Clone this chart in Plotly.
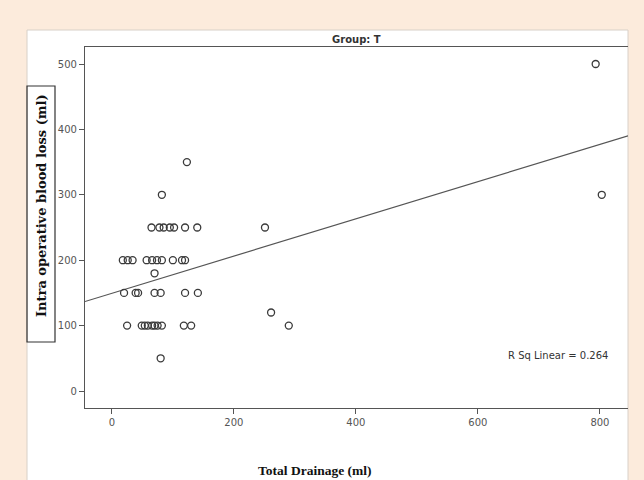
import numpy as np
import plotly.graph_objects as go

# Data (Total Drainage ml, Intra operative blood loss ml)
drainage = [123, 82,
            65, 78, 85, 95, 102, 120, 140, 251,
            18, 26, 34, 57, 66, 74, 82, 100, 115, 120,
            70,
            20, 39, 43, 70, 80, 120, 141,
            25, 49, 54, 59, 66, 70, 75, 82, 118, 130, 290,
            261, 80, 793, 803]
blood_loss = [350, 300,
              250, 250, 250, 250, 250, 250, 250, 250,
              200, 200, 200, 200, 200, 200, 200, 200, 200, 200,
              180,
              150, 150, 150, 150, 150, 150, 150,
              100, 100, 100, 100, 100, 100, 100, 100, 100, 100, 100,
              120, 50, 500, 300]
x_ticks = [0, 200, 400, 600, 800]
y_ticks = [0, 100, 200, 300, 400, 500]
r_sq_text = "R Sq Linear = 0.264"
title_text = "Group: T"

x_range = [-44, 846]
y_range = [-26, 526]

slope, intercept = np.polyfit(drainage, blood_loss, 1)
line_x = np.array(x_range, dtype=float)
line_y = intercept + slope * line_x

fig = go.Figure()
fig.add_trace(go.Scatter(x=line_x, y=line_y, mode="lines",
                         line=dict(color="#555555", width=1.2),
                         hoverinfo="skip", showlegend=False))
fig.add_trace(go.Scatter(x=drainage, y=blood_loss, mode="markers",
                         marker=dict(symbol="circle-open", size=7,
                                     color="#3a3a3a", line=dict(width=1.3)),
                         showlegend=False))

W, H = 644, 480
L, R, T, B = 85, 16, 47, 72
pw, ph = W - L - R, H - T - B

def px(x):
    return (x - L) / pw

def py(y):
    return (H - B - y) / ph

axis_font = dict(family="DejaVu Sans", size=10, color="#555555")
fig.update_layout(
    width=W, height=H,
    margin=dict(l=L, r=R, t=T, b=B),
    paper_bgcolor="#fcebdc",
    plot_bgcolor="#fdfcf2",
    xaxis=dict(range=x_range, tickvals=x_ticks, showgrid=False, zeroline=False,
               showline=True, linecolor="#555555", linewidth=1.2, mirror=True,
               ticks="outside", ticklen=5, tickcolor="#555555",
               tickfont=axis_font),
    yaxis=dict(range=y_range, tickvals=y_ticks, showgrid=False, zeroline=False,
               showline=True, linecolor="#555555", linewidth=1.2,
               ticks="outside", ticklen=5, tickcolor="#555555",
               tickfont=axis_font),
    shapes=[
        dict(type="rect", xref="paper", yref="paper", layer="below",
             x0=px(27), x1=1, y0=py(481), y1=py(30),
             fillcolor="#ffffff", line=dict(color="#d8d0c8", width=1)),
        dict(type="rect", xref="paper", yref="paper", layer="above",
             x0=px(27), x1=px(55), y0=py(342), y1=py(86),
             fillcolor="rgba(0,0,0,0)", line=dict(color="#333333", width=1.2)),
    ],
    annotations=[
        dict(text="<b>" + title_text + "</b>", xref="paper", yref="paper",
             x=0.5, y=py(40), xanchor="center", yanchor="middle", showarrow=False,
             font=dict(family="DejaVu Sans", size=10, color="#333333")),
        dict(text="<b>Intra operative blood loss (ml)</b>", xref="paper", yref="paper",
             x=px(41), y=py(206), xanchor="center", yanchor="middle",
             textangle=-90, showarrow=False,
             font=dict(family="DejaVu Serif", size=13, color="#111111")),
        dict(text="<b>Total Drainage (ml)</b>", xref="paper", yref="paper",
             x=px(315), y=py(471), xanchor="center", yanchor="middle", showarrow=False,
             font=dict(family="Liberation Serif", size=13.5, color="#111111")),
        dict(text=r_sq_text, xref="paper", yref="paper",
             x=px(558), y=py(355), xanchor="center", yanchor="middle", showarrow=False,
             font=dict(family="DejaVu Sans", size=10, color="#333333")),
    ],
)

fig.write_html("out.html", config={"displayModeBar": False},
               post_script="document.body.style.margin='0';document.body.style.overflow='hidden';")
